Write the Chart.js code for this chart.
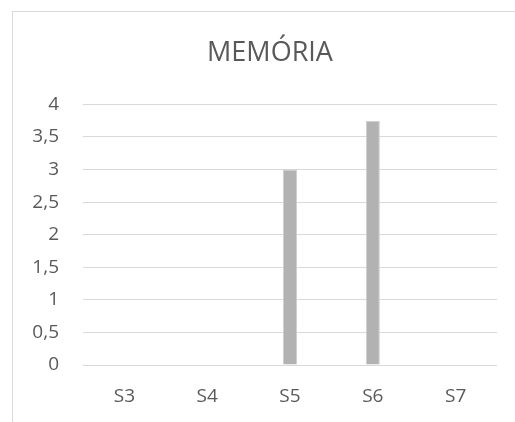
<!DOCTYPE html>
<html>
<head>
<meta charset="utf-8">
<script src="https://cdn.jsdelivr.net/npm/chart.js@4/dist/chart.umd.min.js"></script>
<style>
  html, body { margin: 0; padding: 0; width: 515px; height: 422px; overflow: hidden; background: #fff; }
  #frame { position: absolute; left: 12px; top: 11px; width: 600px; height: 500px; border: 1px solid #d9d9d9; box-sizing: border-box; }
  #wrap { position: absolute; left: 0; top: 0; width: 540px; height: 422px; }
</style>
</head>
<body>
<div id="frame"></div>
<div id="wrap"><canvas id="chart" width="540" height="422"></canvas></div>
<script>
const chartTitle = 'MEMÓRIA';
const categories = ['S3', 'S4', 'S5', 'S6', 'S7'];
const memoria = [0, 0, 3, 3.75, 0];
const yTicks = [0, 0.5, 1, 1.5, 2, 2.5, 3, 3.5, 4];

const textColor = '#595959';
const gridColor = '#d9d9d9';
const fontFamily = "'Open Sans', 'Noto Sans', sans-serif";

new Chart(document.getElementById('chart'), {
  type: 'bar',
  data: {
    labels: categories,
    datasets: [{
      label: chartTitle,
      data: memoria,
      backgroundColor: '#b2b2b2',
      borderColor: '#cfcfcf',
      borderWidth: 1,
      barPercentage: 0.17,
      categoryPercentage: 1,
      xAxisID: 'x',
      yAxisID: 'y'
    }]
  },
  options: {
    responsive: false,
    animation: false,
    devicePixelRatio: 1,
    layout: { padding: 0 },
    plugins: {
      legend: { display: false },
      tooltip: { enabled: false },
      title: {
        display: true,
        text: chartTitle,
        color: textColor,
        font: { family: fontFamily, size: 27, weight: 'normal' },
        padding: { top: 37, bottom: 35 }
      }
    },
    scales: {
      x: {
        grid: { display: false },
        border: { display: false },
        ticks: { color: textColor, font: { family: fontFamily, size: 19 }, padding: 12 },
        afterFit: s => { s.height = 57; }
      },
      y: {
        min: 0,
        max: 4,
        afterBuildTicks: s => { s.ticks = yTicks.map(v => ({ value: v })); },
        grid: { color: gridColor, lineWidth: 1, drawTicks: false },
        border: { display: false },
        ticks: {
          color: textColor,
          font: { family: fontFamily, size: 19 },
          padding: 24,
          callback: v => String(v).replace('.', ',')
        },
        afterFit: s => { s.width = 83; }
      },
      yRight: {
        position: 'right',
        display: true,
        grid: { display: false, drawOnChartArea: false },
        border: { display: false },
        ticks: { display: false },
        afterFit: s => { s.width = 43; }
      }
    }
  }
});
</script>
</body>
</html>
